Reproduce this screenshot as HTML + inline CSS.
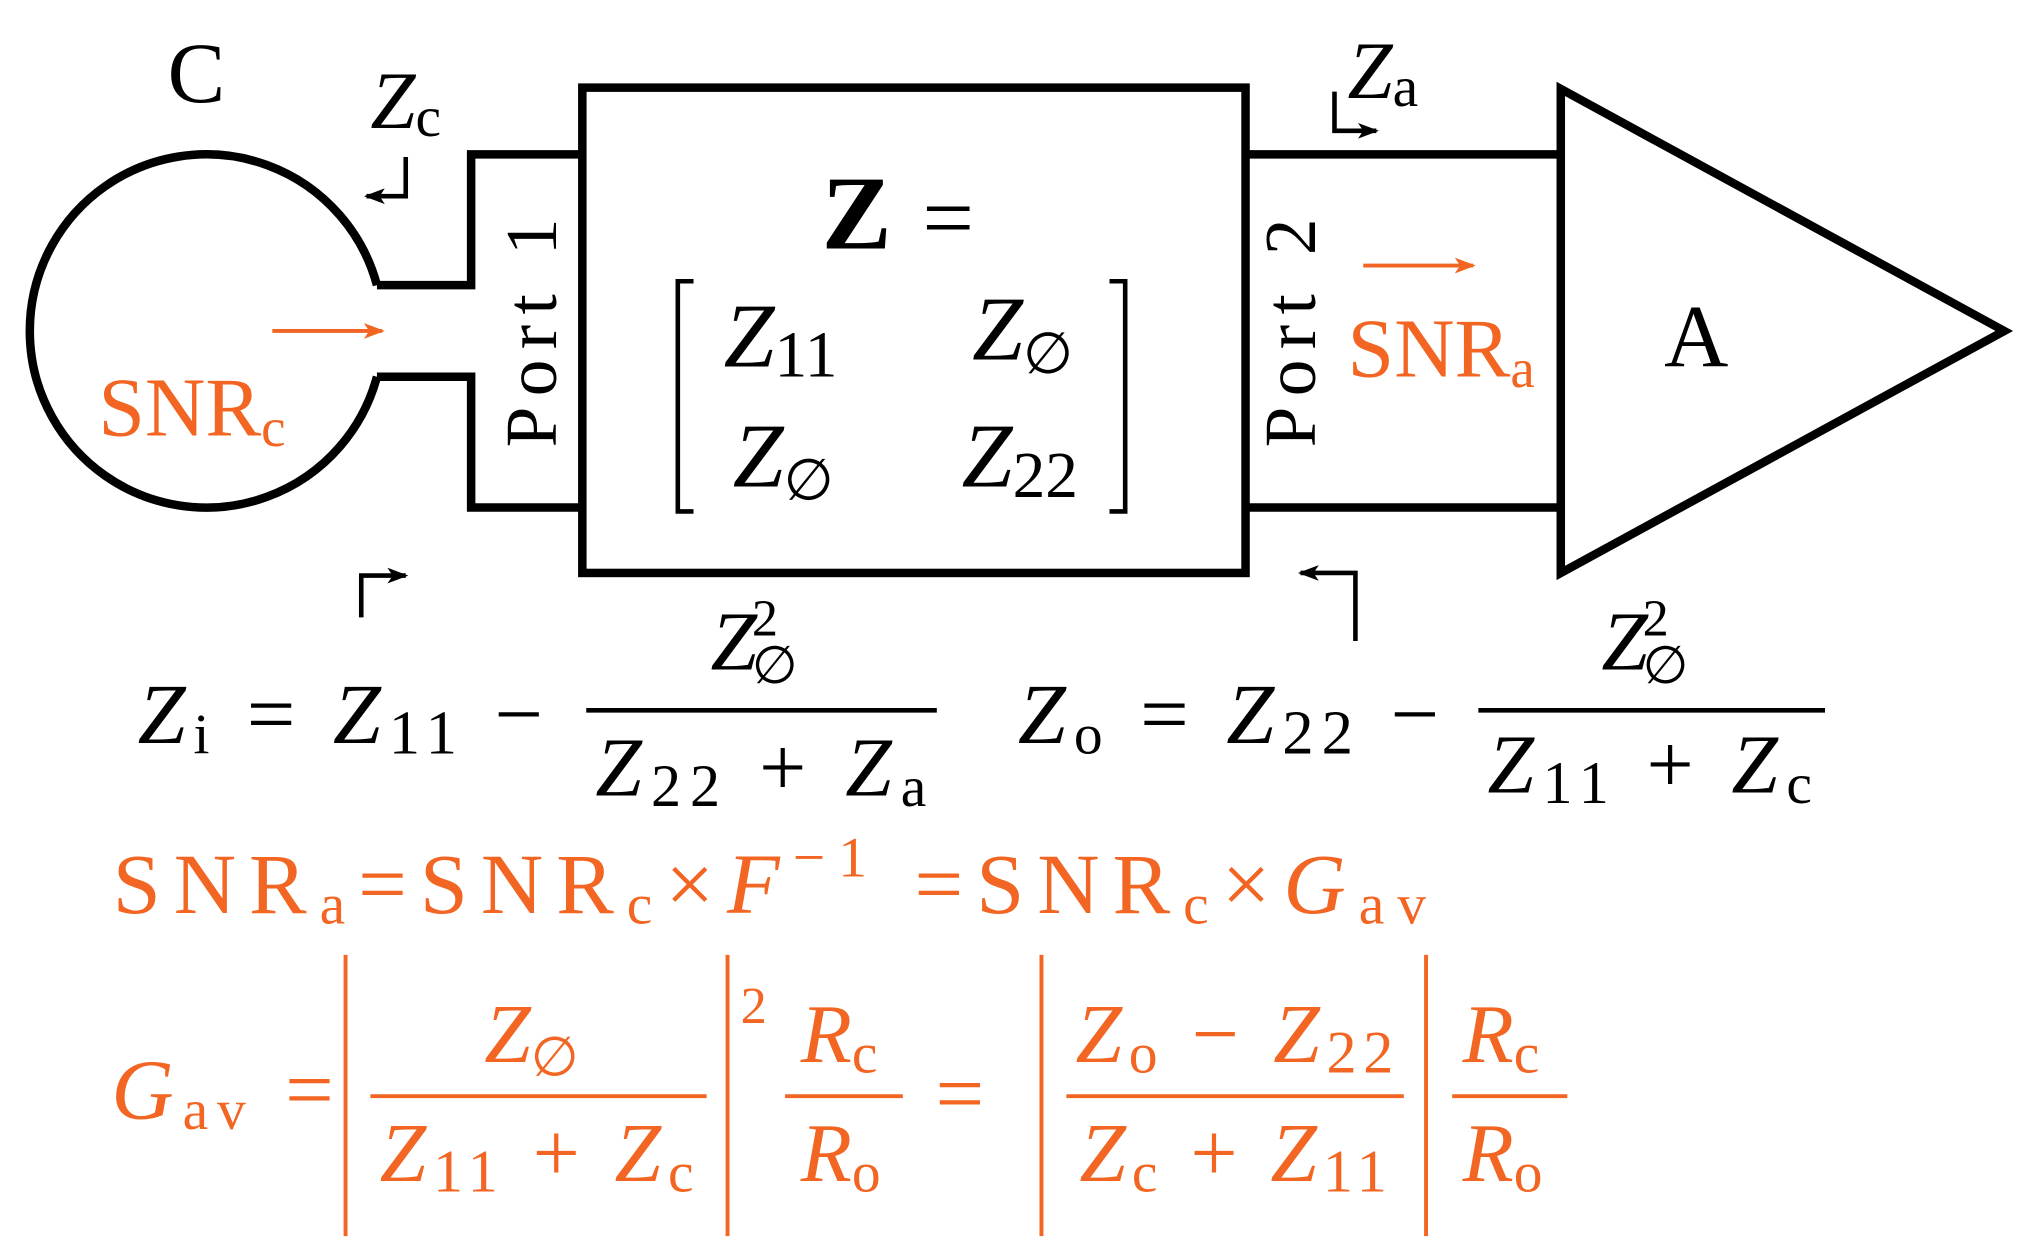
<!DOCTYPE html>
<html><head><meta charset="utf-8"><style>html,body{margin:0;padding:0;background:#fff}svg{display:block}</style></head>
<body>
<svg width="2028" height="1244" viewBox="0 0 1550 951" xmlns="http://www.w3.org/2000/svg" font-family="Liberation Serif, serif">
<defs>
<marker id="ao" markerWidth="20" markerHeight="16" refX="14" refY="8" orient="auto" markerUnits="userSpaceOnUse"><path d="M0,2 L16,8 L0,14 L4,8z" fill="#f26522"/></marker>
<marker id="ak" markerWidth="20" markerHeight="16" refX="14" refY="8" orient="auto" markerUnits="userSpaceOnUse"><path d="M0,2 L16,8 L0,14 L4,8z" fill="#000"/></marker>
</defs>
<g fill="none" stroke="#000" stroke-width="6.5">
<path d="M288,218 A135,135 0 1 0 288,288"/>
<path d="M288,218 H360 V118 H445 M288,288 H360 V388 H445"/>
<rect x="445" y="67" width="507" height="371"/>
<path d="M952,118 H1193 M952,388 H1193"/>
<path d="M1193,68 L1193,438 L1532,253 Z"/>
</g>
<g fill="none" stroke="#000" stroke-width="3.5">
<path d="M530,215 h-12 v176 h12 M848,215 h12 v176 h-12"/>
<path d="M310,120 V150 H280" marker-end="url(#ak)"/>
<path d="M1020,70 V100 H1052" marker-end="url(#ak)"/>
<path d="M276,472 V440 H310" marker-end="url(#ak)"/>
<path d="M1036,490 V438 H994" marker-end="url(#ak)"/>
<path d="M448,543 H716 M1130,543 H1395"/>
</g>
<g fill="none" stroke="#f26522" stroke-width="3">
<path d="M208,253 H292" marker-end="url(#ao)"/>
<path d="M1042,203 H1126" marker-end="url(#ao)"/>
<path d="M283,838 H540 M600,838 H690 M815,838 H1073 M1110,838 H1198"/>
<path d="M264,730 V945 M556,730 V945 M796,730 V945 M1090,730 V945"/>
</g>
<g fill="#000" font-size="62">
<text x="128" y="78" font-size="66">C</text>
<text x="283" y="98" font-style="italic">Z<tspan font-size="44" font-style="normal" dy="6">c</tspan></text>
<text x="1030" y="75" font-style="italic">Z<tspan font-size="44" font-style="normal" dy="6">a</tspan></text>
<text transform="translate(425,342) rotate(-90)" font-size="56" textLength="175">Port 1</text>
<text transform="translate(1005,342) rotate(-90)" font-size="56" textLength="175">Port 2</text>
<text x="628" y="190" font-size="80" font-weight="bold">Z</text>
<text x="705" y="190" font-size="70">=</text>
<text x="553" y="280" font-style="italic" font-size="70">Z<tspan font-style="normal" font-size="50" dy="8">11</tspan></text>
<text x="743" y="275" font-style="italic" font-size="70">Z<tspan font-style="normal" font-size="44" dy="10">∅</tspan></text>
<text x="560" y="372" font-style="italic" font-size="70">Z<tspan font-style="normal" font-size="44" dy="10">∅</tspan></text>
<text x="735" y="372" font-style="italic" font-size="70">Z<tspan font-style="normal" font-size="50" dy="8">22</tspan></text>
<text x="1272" y="280" font-size="68">A</text>
<text x="105" y="568" font-size="66" textLength="310" lengthAdjust="spacing"><tspan font-style="italic">Z</tspan><tspan font-size="44" dy="8">i</tspan><tspan dy="-8"> = </tspan><tspan font-style="italic">Z</tspan><tspan font-size="48" dy="8">11</tspan><tspan dy="-8"> −</tspan></text>
<text x="543" y="512" font-size="64" font-style="italic">Z<tspan font-size="40" font-style="normal" dy="-26" dx="-4">2</tspan><tspan font-size="40" font-style="normal" dy="36" dx="-20">∅</tspan></text>
<text x="455" y="608" font-size="64" textLength="253" lengthAdjust="spacing"><tspan font-style="italic">Z</tspan><tspan font-size="46" dy="8">22</tspan><tspan dy="-8"> + </tspan><tspan font-style="italic">Z</tspan><tspan font-size="44" dy="8">a</tspan></text>
<text x="778" y="568" font-size="66" textLength="322" lengthAdjust="spacing"><tspan font-style="italic">Z</tspan><tspan font-size="44" dy="8">o</tspan><tspan dy="-8"> = </tspan><tspan font-style="italic">Z</tspan><tspan font-size="48" dy="8">22</tspan><tspan dy="-8"> −</tspan></text>
<text x="1224" y="512" font-size="64" font-style="italic">Z<tspan font-size="40" font-style="normal" dy="-26" dx="-4">2</tspan><tspan font-size="40" font-style="normal" dy="36" dx="-20">∅</tspan></text>
<text x="1137" y="606" font-size="64" textLength="248" lengthAdjust="spacing"><tspan font-style="italic">Z</tspan><tspan font-size="46" dy="8">11</tspan><tspan dy="-8"> + </tspan><tspan font-style="italic">Z</tspan><tspan font-size="44" dy="8">c</tspan></text>
</g>
<g fill="#f26522" font-size="62">
<text x="75" y="333" font-size="64">SNR<tspan font-size="42" dy="8">c</tspan></text>
<text x="1030" y="288" font-size="64">SNR<tspan font-size="42" dy="8">a</tspan></text>
<text x="86" y="698" font-size="66" textLength="1004" lengthAdjust="spacing">SNR<tspan font-size="44" dy="8">a</tspan><tspan dy="-8">=SNR</tspan><tspan font-size="44" dy="8">c</tspan><tspan dy="-8">×</tspan><tspan font-style="italic">F</tspan><tspan font-size="44" dy="-28">−1</tspan><tspan dy="28"> =SNR</tspan><tspan font-size="44" dy="8">c</tspan><tspan dy="-8">×</tspan><tspan font-style="italic">G</tspan><tspan font-size="44" dy="8">av</tspan></text>
<text x="85" y="855" font-size="66" textLength="170" lengthAdjust="spacing"><tspan font-style="italic">G</tspan><tspan font-size="44" dy="8">av</tspan><tspan dy="-8"> =</tspan></text>
<text x="370" y="812" font-size="64" font-style="italic">Z<tspan font-size="42" font-style="normal" dy="10">∅</tspan></text>
<text x="290" y="903" font-size="64" textLength="240" lengthAdjust="spacing"><tspan font-style="italic">Z</tspan><tspan font-size="46" dy="8">11</tspan><tspan dy="-8"> + </tspan><tspan font-style="italic">Z</tspan><tspan font-size="44" dy="8">c</tspan></text>
<text x="566" y="782" font-size="40">2</text>
<text x="612" y="812" font-size="64" font-style="italic">R<tspan font-size="44" font-style="normal" dy="8">c</tspan></text>
<text x="612" y="903" font-size="64" font-style="italic">R<tspan font-size="44" font-style="normal" dy="8">o</tspan></text>
<text x="715" y="858" font-size="66">=</text>
<text x="822" y="812" font-size="64" textLength="243" lengthAdjust="spacing"><tspan font-style="italic">Z</tspan><tspan font-size="44" dy="8">o</tspan><tspan dy="-8"> − </tspan><tspan font-style="italic">Z</tspan><tspan font-size="46" dy="8">22</tspan></text>
<text x="825" y="903" font-size="64" textLength="235" lengthAdjust="spacing"><tspan font-style="italic">Z</tspan><tspan font-size="44" dy="8">c</tspan><tspan dy="-8"> + </tspan><tspan font-style="italic">Z</tspan><tspan font-size="46" dy="8">11</tspan></text>
<text x="1118" y="812" font-size="64" font-style="italic">R<tspan font-size="44" font-style="normal" dy="8">c</tspan></text>
<text x="1118" y="903" font-size="64" font-style="italic">R<tspan font-size="44" font-style="normal" dy="8">o</tspan></text>
</g>
</svg>
</body></html>
